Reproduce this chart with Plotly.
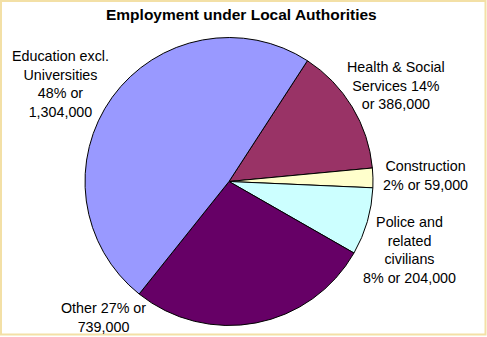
import plotly.graph_objects as go

categories = ["Health & Social Services", "Construction", "Police and related civilians",
              "Other", "Education excl. Universities"]
values = [386000, 59000, 204000, 739000, 1304000]
colors = ["#993366", "#FFFFCC", "#CCFFFF", "#660066", "#9999FF"]
label_texts = [
    "Health & Social<br>Services 14%<br>or 386,000",
    "Construction<br>2% or 59,000",
    "Police and<br>related<br>civilians<br>8% or 204,000",
    "Other 27% or<br>739,000",
    "Education excl.<br>Universities<br>48% or<br>1,304,000",
]
title_text = "Employment under Local Authorities"

W, H = 487, 337
# label centres in pixels
label_pos = [(396, 86), (425, 175), (409, 250), (103, 317), (60, 84)]

fig = go.Figure()
fig.add_trace(go.Pie(
    labels=categories, values=values, sort=False, direction="clockwise",
    rotation=33, marker=dict(colors=colors, line=dict(color="black", width=1)),
    textinfo="none", hoverinfo="label+value+percent",
    domain=dict(x=[85 / W, 373 / W], y=[1 - 325.5 / H, 1 - 37.5 / H]),
    showlegend=False,
))

font = dict(family="Arial, Liberation Sans, sans-serif", size=14.3, color="black")
for txt, (px, py) in zip(label_texts, label_pos):
    fig.add_annotation(x=px / W, y=1 - py / H, xref="paper", yref="paper",
                       text=txt, showarrow=False, font=font, align="center",
                       xanchor="center", yanchor="middle")

fig.add_annotation(x=241 / W, y=1 - 15 / H, xref="paper", yref="paper",
                   text="<b>" + title_text + "</b>", showarrow=False,
                   font=dict(family="Arial, Liberation Sans, sans-serif", size=15.5, color="black"),
                   xanchor="center", yanchor="middle")

fig.add_shape(type="rect", xref="paper", yref="paper",
              x0=1 / W, x1=(W - 1.5) / W, y0=1 - 334.5 / H, y1=1 - 1 / H,
              line=dict(color="#F3E0A6", width=2))

fig.update_layout(width=W, height=H, margin=dict(l=0, r=0, t=0, b=0),
                  paper_bgcolor="white", plot_bgcolor="white")
fig.write_html("out.html")
